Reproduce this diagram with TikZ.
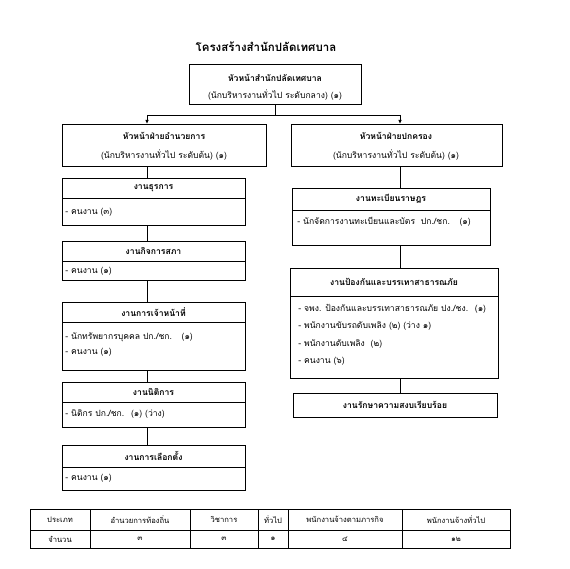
\documentclass[tikz,border=0pt]{standalone}
\usepackage{fontspec}
\setmainfont[Script=Thai]{Loma}
\usetikzlibrary{arrows.meta}
\newcommand\orgbox[7]{%
  \node[box, minimum width={(#3)-(#2)}, minimum height={(#6)-(#4)}] (#1) at (#2,#4) {};
  \draw (#2,#5) -- (#3,#5);
  \node[head] (#1t) at ({((#2)+(#3))/2},{((#4)+(#5))/2}) {#7};}
\newcommand\cell[6]{%
  \node[box, minimum width={(#3)-(#2)}, minimum height={(#5)-(#4)}] (#1) at (#2,#4) {};
  \node[small] at ({((#2)+(#3))/2},{((#4)+(#5))/2}) {#6};}
\begin{document}
\begin{tikzpicture}[x=1pt,y=-1pt, line width=0.8pt,
  box/.style={draw, anchor=north west, inner sep=0},
  txt/.style={font=\fontsize{8.6}{10}\selectfont, inner sep=0},
  head/.style={font=\fontsize{8.6}{10}\selectfont\bfseries, inner sep=0},
  small/.style={font=\fontsize{7.6}{9}\selectfont, inner sep=0},
  lbl/.style={txt, anchor=west},
  arr/.style={-{Latex[length=4pt,width=3.5pt]}}]
\useasboundingbox[fill=white] (0,0) rectangle (570,569);

\node[font=\fontsize{11.5}{13}\selectfont\bfseries, inner sep=0] (title) at (266,47) {โครงสร้างสำนักปลัดเทศบาล};

% top box
\node[box, minimum width=172, minimum height=40] (top) at (189,64) {};
\node[head] (topa) at (275,78) {หัวหน้าสำนักปลัดเทศบาล};
\node[txt] (topb) at (275,95) {(นักบริหารงานทั่วไป ระดับกลาง) (๑)};

% headers
\node[box, minimum width=204, minimum height=42] (lh) at (62,124) {};
\node[head] (lha) at (164,136) {หัวหน้าฝ่ายอำนวยการ};
\node[txt] (lhb) at (164,155) {(นักบริหารงานทั่วไป ระดับต้น) (๑)};
\node[box, minimum width=211, minimum height=42] (rh) at (291,124) {};
\node[head] (rha) at (396,136) {หัวหน้าฝ่ายปกครอง};
\node[txt] (rhb) at (396,155) {(นักบริหารงานทั่วไป ระดับต้น) (๑)};

\coordinate (jl) at (147,115);
\coordinate (jr) at (400,115);
\draw (top.south) -- (top.south |- jl);
\draw (jl) -- (jr);
\draw[arr] (jl) -- (jl |- lh.north);
\draw[arr] (jr) -- (jr |- rh.north);

% left boxes
\orgbox{b1}{62}{245}{178}{198}{225}{งานธุรการ}
\node[lbl] (b1a) at (65,212) {- คนงาน (๓)};
\orgbox{b2}{62}{245}{241}{261}{280}{งานกิจการสภา}
\node[lbl] (b2a) at (65,271) {- คนงาน (๑)};
\orgbox{b3}{62}{245}{302}{322}{370}{งานการเจ้าหน้าที่}
\node[lbl] (b3a) at (65,337) {- นักทรัพยากรบุคคล ปก./ชก. \ \ (๑)};
\node[lbl] (b3b) at (65,352) {- คนงาน (๑)};
\orgbox{b4}{62}{245}{382}{402}{427}{งานนิติการ}
\node[lbl] (b4a) at (65,414) {- นิติกร ปก./ชก. \ (๑) (ว่าง)};
\orgbox{b5}{62}{245}{445}{467}{490}{งานการเลือกตั้ง}
\node[lbl] (b5a) at (65,478) {- คนงาน (๑)};

\draw (lh.south -| jl) -- (b1.north -| jl);
\draw (b1.south -| jl) -- (b2.north -| jl);
\draw (b2.south -| jl) -- (b3.north -| jl);
\draw (b3.south -| jl) -- (b4.north -| jl);
\draw (b4.south -| jl) -- (b5.north -| jl);

% right boxes
\orgbox{r1}{292}{490}{188}{210}{245}{งานทะเบียนราษฎร}
\node[lbl] (r1a) at (297,222) {- นักจัดการงานทะเบียนและบัตร \ ปก./ชก. \ \ (๑)};
\orgbox{r2}{290}{498}{268}{296}{378}{งานป้องกันและบรรเทาสาธารณภัย}
\node[lbl] (r2a) at (298,309) {- จพง. ป้องกันและบรรเทาสาธารณภัย ปง./ชง. \ (๑)};
\node[lbl] (r2b) at (298,326) {- พนักงานขับรถดับเพลิง (๒) (ว่าง ๑)};
\node[lbl] (r2c) at (298,344) {- พนักงานดับเพลิง \ (๒)};
\node[lbl] (r2d) at (298,361) {- คนงาน (๖)};
\node[box, minimum width=204, minimum height=24] (r3) at (293,405-12) {};
\node[head] (r3t) at (395,405) {งานรักษาความสงบเรียบร้อย};

\draw (rh.south -| jr) -- (r1.north -| jr);
\draw (r1.south -| jr) -- (r2.north -| jr);
\draw (r2.south -| jr) -- (r3.north -| jr);

% table
\cell{t11}{30}{90}{509}{530}{ประเภท}
\cell{t12}{90}{190}{509}{530}{อำนวยการท้องถิ่น}
\cell{t13}{190}{258}{509}{530}{วิชาการ}
\cell{t14}{258}{288}{509}{530}{ทั่วไป}
\cell{t15}{288}{402}{509}{530}{พนักงานจ้างตามภารกิจ}
\cell{t16}{402}{510}{509}{530}{พนักงานจ้างทั่วไป}
\cell{t21}{30}{90}{530}{548}{จำนวน}
\cell{t22}{90}{190}{530}{548}{๓}
\cell{t23}{190}{258}{530}{548}{๓}
\cell{t24}{258}{288}{530}{548}{๑}
\cell{t25}{288}{402}{530}{548}{๔}
\cell{t26}{402}{510}{530}{548}{๑๒}
\end{tikzpicture}
\end{document}
